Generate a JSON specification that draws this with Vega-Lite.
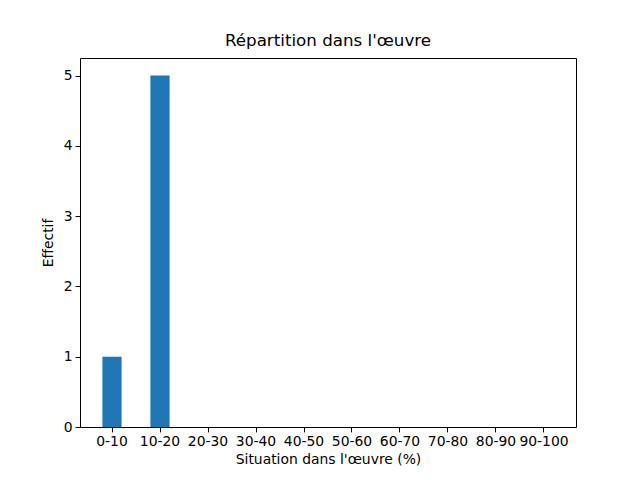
{
  "$schema": "https://vega.github.io/schema/vega-lite/v6.json",
  "width": 496,
  "height": 369,
  "autosize": {"type": "none"},
  "padding": {"left": 80, "top": 58, "right": 64, "bottom": 53},
  "background": "white",
  "title": {"text": "Répartition dans l'œuvre", "font": "DejaVu Sans", "fontSize": 16.7, "fontWeight": "normal", "color": "black", "offset": 8},
  "data": {"values": [
    {"tranche": "0-10", "effectif": 1},
    {"tranche": "10-20", "effectif": 5},
    {"tranche": "20-30", "effectif": 0},
    {"tranche": "30-40", "effectif": 0},
    {"tranche": "40-50", "effectif": 0},
    {"tranche": "50-60", "effectif": 0},
    {"tranche": "60-70", "effectif": 0},
    {"tranche": "70-80", "effectif": 0},
    {"tranche": "80-90", "effectif": 0},
    {"tranche": "90-100", "effectif": 0}
  ]},
  "mark": {"type": "bar", "color": "#1f77b4"},
  "encoding": {
    "x": {"field": "tranche", "type": "nominal", "sort": null,
      "scale": {"paddingInner": 0.6, "paddingOuter": 0.4667},
      "axis": {"title": "Situation dans l'œuvre (%)", "labelAngle": 0, "grid": false, "domain": false,
        "tickColor": "black", "tickSize": 4.9, "labelPadding": 3, "labelFont": "DejaVu Sans", "labelFontSize": 13.9, "labelColor": "black",
        "titleFont": "DejaVu Sans", "titleFontSize": 13.9, "titleFontWeight": "normal", "titleColor": "black", "titlePadding": 4}},
    "y": {"field": "effectif", "type": "quantitative",
      "scale": {"domain": [0, 5.25], "nice": false},
      "axis": {"title": "Effectif", "values": [0, 1, 2, 3, 4, 5], "grid": false, "domain": false,
        "tickColor": "black", "tickSize": 4.9, "labelPadding": 3, "labelFont": "DejaVu Sans", "labelFontSize": 13.9, "labelColor": "black",
        "titleFont": "DejaVu Sans", "titleFontSize": 13.9, "titleFontWeight": "normal", "titleColor": "black", "titlePadding": 8}}
  },
  "config": {"view": {"stroke": "black", "strokeWidth": 1}}
}
